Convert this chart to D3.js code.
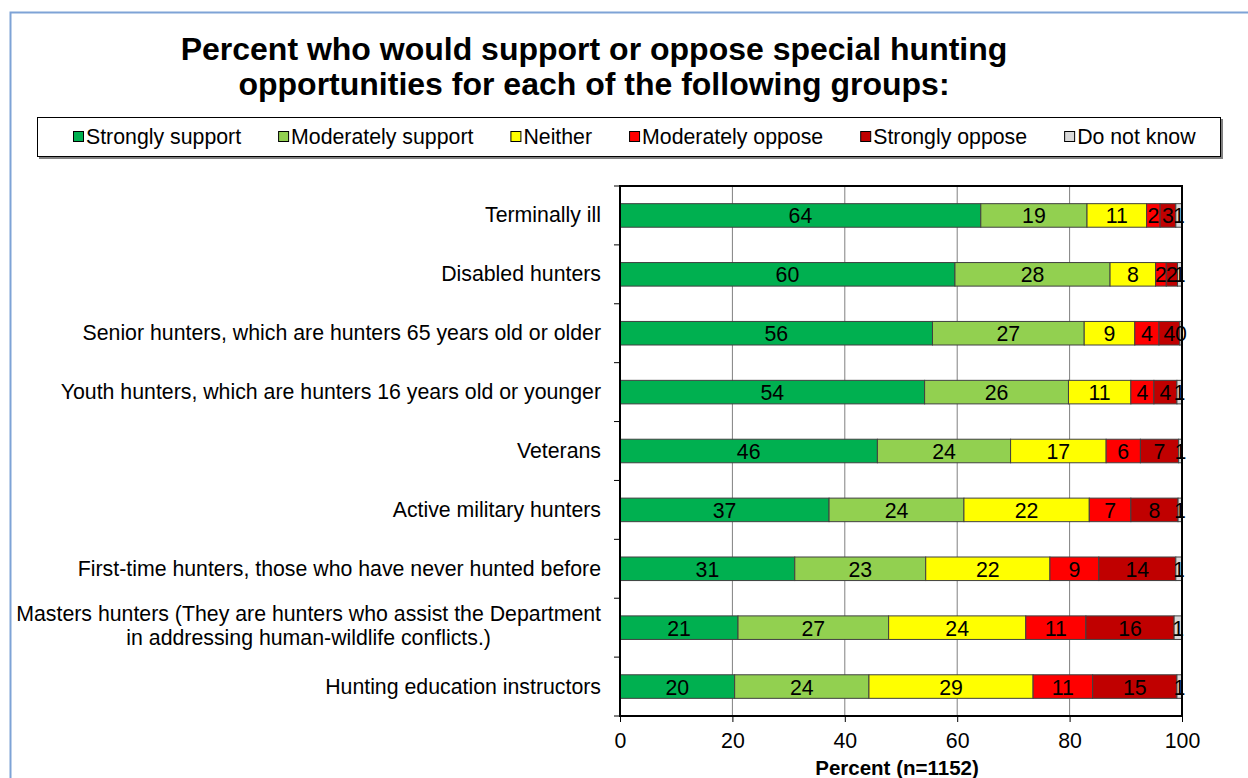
<!DOCTYPE html>
<html>
<head>
<meta charset="utf-8">
<script src="https://cdn.jsdelivr.net/npm/d3@7"></script>
<style>
  body { margin: 0; background: #fff; }
  svg { display: block; font-family: "Liberation Sans", Arial, sans-serif; }
</style>
</head>
<body>
<div id="chart"></div>
<script>
// Categories, top to bottom.
var categories = [
  "Terminally ill",
  "Disabled hunters",
  "Senior hunters, which are hunters 65 years old or older",
  "Youth hunters, which are hunters 16 years old or younger",
  "Veterans",
  "Active military hunters",
  "First-time hunters, those who have never hunted before",
  "Masters hunters (They are hunters who assist the Department|in addressing human-wildlife conflicts.)",
  "Hunting education instructors"
];

var seriesNames = ["Strongly support", "Moderately support", "Neither",
                   "Moderately oppose", "Strongly oppose", "Do not know"];
var seriesColors = ["#00B050", "#92D050", "#FFFF00", "#FF0000", "#C00000", "#D9D9D9"];

// one array per series, same order as categories
var stronglySupport   = [64.2, 59.6, 55.6, 54.2, 45.8, 37.2, 31.1, 21.0, 20.4];
var moderatelySupport = [18.9, 27.6, 27.0, 25.6, 23.7, 24.0, 23.3, 26.8, 23.9];
var neither           = [10.6,  8.1,  9.0, 11.1, 17.0, 22.3, 22.1, 24.4, 29.2];
var moderatelyOppose  = [ 2.4,  1.9,  4.3,  4.1,  6.1,  7.4,  8.7, 10.7, 10.6];
var stronglyOppose    = [ 2.8,  2.0,  3.7,  4.1,  6.8,  8.4, 13.7, 15.7, 15.0];
var doNotKnow         = [ 1.1,  0.8,  0.4,  0.9,  0.6,  0.7,  1.1,  1.4,  0.9];

var xTicks = [0, 20, 40, 60, 80, 100];

var W = 1248, H = 778;
var plot = { left: 620, right: 1182, top: 186, bottom: 716 };
var fs = 21.3; // body font size

var svg = d3.select("#chart").append("svg")
    .attr("width", W)
    .attr("height", H);

// outer frame (only top and left visible in the picture)
svg.append("path")
    .attr("d", "M10.5," + H + "V12.5H" + W)
    .attr("fill", "none")
    .attr("stroke", "#7EA3D6")
    .attr("stroke-width", 2);

// title
var title = svg.append("text")
    .attr("text-anchor", "middle")
    .attr("font-weight", "bold")
    .attr("font-size", 32);
title.append("tspan").attr("x", 594).attr("y", 60)
    .text("Percent who would support or oppose special hunting");
title.append("tspan").attr("x", 594).attr("y", 95)
    .text("opportunities for each of the following groups:");

// legend
var legend = svg.append("g");
legend.append("rect")
    .attr("x", 39).attr("y", 119).attr("width", 1184).attr("height", 40)
    .attr("fill", "#808080");
legend.append("rect")
    .attr("x", 37.5).attr("y", 117.5).attr("width", 1183).attr("height", 39)
    .attr("fill", "#fff").attr("stroke", "#000");

var items = legend.selectAll("g.item").data(seriesNames)
  .enter().append("g").attr("class", "item");
items.append("rect")
    .attr("width", 10).attr("height", 10)
    .attr("y", 131.5)
    .attr("fill", function(d, i) { return seriesColors[i]; })
    .attr("stroke", "#000");
items.append("text")
    .attr("y", 144)
    .attr("font-size", fs)
    .text(function(d) { return d; });

var lx = 73;
items.each(function() {
  var g = d3.select(this);
  var tw = g.select("text").node().getComputedTextLength();
  g.select("rect").attr("x", lx + 0.5);
  g.select("text").attr("x", lx + 13);
  lx += 13 + tw + 37;
});

// scales
var x = d3.scaleLinear().domain([0, 100]).range([plot.left, plot.right]);
var y = d3.scaleBand().domain(d3.range(categories.length))
    .range([plot.top, plot.bottom]).paddingInner(0.6).paddingOuter(0.3);
var yEdges = d3.scaleLinear().domain([0, categories.length]).range([plot.top, plot.bottom]);

// vertical gridlines
svg.append("g").selectAll("line")
    .data(xTicks.slice(1, -1))
  .enter().append("line")
    .attr("x1", function(d) { return x(d); })
    .attr("x2", function(d) { return x(d); })
    .attr("y1", plot.top).attr("y2", plot.bottom)
    .attr("stroke", "#808080").attr("stroke-width", 1);

// stacked bars
var seriesData = [stronglySupport, moderatelySupport, neither,
                  moderatelyOppose, stronglyOppose, doNotKnow];
var rows = categories.map(function(c, i) {
  var row = { index: i };
  seriesNames.forEach(function(s, k) { row[s] = seriesData[k][i]; });
  return row;
});
var stacked = d3.stack().keys(seriesNames)(rows);

var layers = svg.append("g").selectAll("g")
    .data(stacked)
  .enter().append("g")
    .attr("fill", function(d, i) { return seriesColors[i]; });

layers.selectAll("rect")
    .data(function(d) { return d; })
  .enter().append("rect")
    .attr("x", function(d) { return x(d[0]); })
    .attr("width", function(d) { return x(d[1]) - x(d[0]); })
    .attr("y", function(d) { return y(d.data.index); })
    .attr("height", y.bandwidth())
    .attr("stroke", "#404040")
    .attr("stroke-width", 1);

layers.selectAll("text")
    .data(function(d) { return d; })
  .enter().append("text")
    .attr("x", function(d) { return (x(d[0]) + x(d[1])) / 2; })
    .attr("y", function(d) { return y(d.data.index) + y.bandwidth() / 2 + 8; })
    .attr("text-anchor", "middle")
    .attr("font-size", fs)
    .attr("fill", "#000")
    .text(function(d) { return Math.round(d[1] - d[0]); });

// plot frame
svg.append("rect")
    .attr("x", plot.left).attr("y", plot.top)
    .attr("width", plot.right - plot.left).attr("height", plot.bottom - plot.top)
    .attr("fill", "none").attr("stroke", "#000").attr("stroke-width", 2);

// x axis
var xAxis = svg.append("g")
    .attr("transform", "translate(0," + plot.bottom + ")")
    .call(d3.axisBottom(x).tickValues(xTicks).tickSize(6).tickPadding(11));
xAxis.select(".domain").remove();
xAxis.selectAll("line").attr("stroke", "#000");
xAxis.selectAll("text")
    .attr("font-size", fs)
    .attr("font-family", "Liberation Sans, Arial, sans-serif")
    .attr("fill", "#000");

svg.append("text")
    .attr("x", 897).attr("y", 775)
    .attr("text-anchor", "middle")
    .attr("font-weight", "bold")
    .attr("font-size", 20.5)
    .text("Percent (n=1152)");

// y tick marks at band edges
svg.append("g").selectAll("line")
    .data(d3.range(categories.length + 1))
  .enter().append("line")
    .attr("x1", plot.left - 6).attr("x2", plot.left)
    .attr("y1", function(d) { return yEdges(d); })
    .attr("y2", function(d) { return yEdges(d); })
    .attr("stroke", "#000");

// category labels (multi-line labels centred on their widest line)
var labelRight = 601;
categories.forEach(function(c, i) {
  var lines = c.split("|");
  var cy = y(i) + y.bandwidth() / 2;
  var t = svg.append("text")
      .attr("font-size", fs)
      .attr("fill", "#000");
  lines.forEach(function(l, k) {
    t.append("tspan")
        .attr("y", cy + 7 + (k - (lines.length - 1) / 2) * 24 - (lines.length > 1 ? 2 : 0))
        .text(l);
  });
  if (lines.length === 1) {
    t.attr("text-anchor", "end").selectAll("tspan").attr("x", labelRight);
  } else {
    var maxW = 0;
    t.selectAll("tspan").each(function() {
      maxW = Math.max(maxW, this.getComputedTextLength());
    });
    t.attr("text-anchor", "middle").selectAll("tspan")
        .attr("x", labelRight - maxW / 2);
  }
});
</script>
</body>
</html>
